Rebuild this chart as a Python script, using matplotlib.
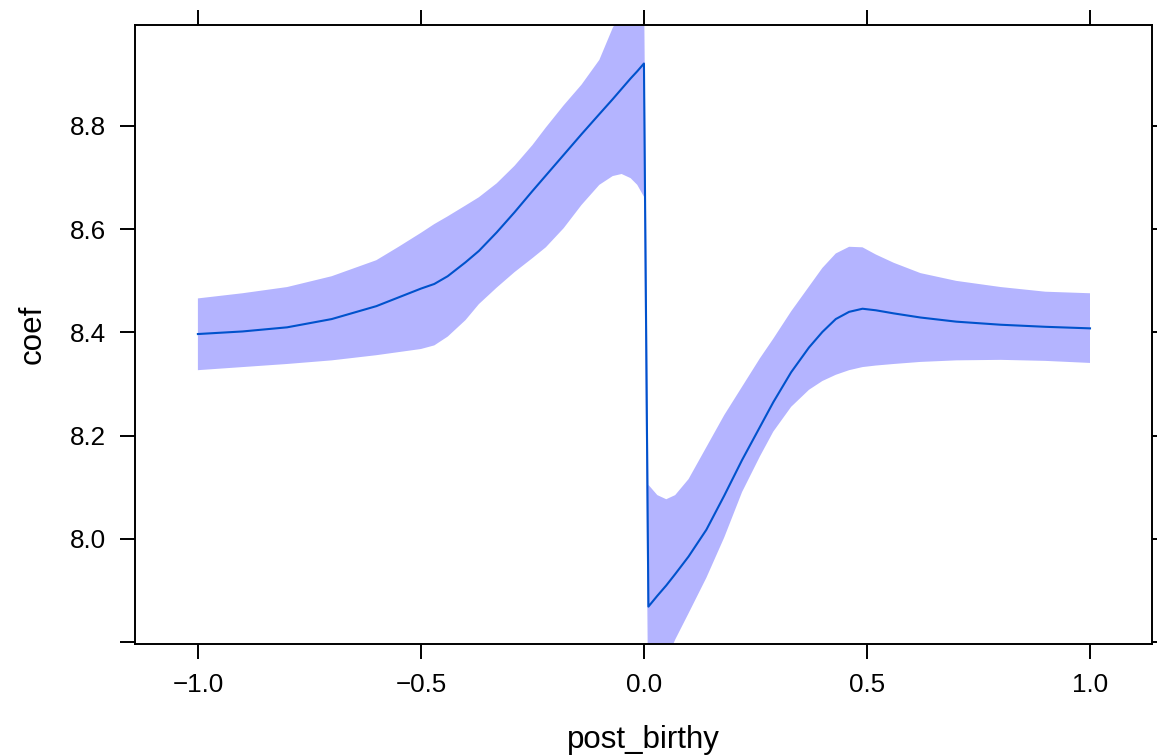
import numpy as np
import matplotlib.pyplot as plt

# effect of post_birthy on coef, with confidence band
post_birthy = [-1.0, -0.9, -0.8, -0.7, -0.6, -0.55, -0.5, -0.47, -0.44, -0.4, -0.37, -0.33,
               -0.29, -0.25, -0.22, -0.18, -0.14, -0.1, -0.07, -0.05, -0.03, -0.015, 0.0,
               0.01, 0.03, 0.05, 0.07, 0.1, 0.14, 0.18, 0.22, 0.26, 0.29, 0.33, 0.37, 0.4,
               0.43, 0.46, 0.49, 0.52, 0.56, 0.62, 0.7, 0.8, 0.9, 1.0]
fit = [8.397, 8.402, 8.410, 8.426, 8.451, 8.468, 8.485, 8.494, 8.509, 8.536, 8.558, 8.594,
       8.633, 8.674, 8.704, 8.744, 8.784, 8.823, 8.852, 8.872, 8.892, 8.906, 8.921,
       7.869, 7.890, 7.910, 7.932, 7.966, 8.018, 8.084, 8.153, 8.217, 8.265, 8.323, 8.371, 8.401,
       8.426, 8.440, 8.446, 8.443, 8.437, 8.429, 8.421, 8.415, 8.411, 8.408]
upper = [8.466, 8.476, 8.488, 8.509, 8.540, 8.566, 8.593, 8.610, 8.625, 8.646, 8.662, 8.689,
         8.723, 8.763, 8.797, 8.840, 8.880, 8.928, 8.990, 9.020, 9.050, 9.070, 9.090,
         8.105, 8.085, 8.077, 8.085, 8.116, 8.178, 8.240, 8.295, 8.350, 8.388, 8.441, 8.489, 8.525,
         8.553, 8.566, 8.565, 8.551, 8.535, 8.515, 8.500, 8.488, 8.479, 8.476]
lower = [8.327, 8.333, 8.339, 8.346, 8.356, 8.362, 8.368, 8.375, 8.392, 8.424, 8.455, 8.487,
         8.517, 8.544, 8.565, 8.602, 8.647, 8.686, 8.703, 8.707, 8.699, 8.686, 8.663,
         7.620, 7.700, 7.765, 7.805, 7.856, 7.925, 8.003, 8.091, 8.160, 8.208, 8.256, 8.289, 8.306,
         8.318, 8.327, 8.333, 8.336, 8.339, 8.343, 8.346, 8.347, 8.345, 8.341]

xticks = [-1.0, -0.5, 0.0, 0.5, 1.0]
xlabels = ["\u22121.0", "\u22120.5", "0.0", "0.5", "1.0"]
yticks = [7.8, 8.0, 8.2, 8.4, 8.6, 8.8]
ylabels = ["", "8.0", "8.2", "8.4", "8.6", "8.8"]

plt.rcParams['font.family'] = ['Liberation Sans', 'DejaVu Sans']

fig = plt.figure(figsize=(11.57, 7.55), dpi=100)
ax = fig.add_axes([135/1157, 111/755, 1017/1157, 619/755])

ax.fill_between(post_birthy, lower, upper, color='#b4b4ff', linewidth=0)
ax.plot(post_birthy, fit, color='#0052cc', linewidth=1.5)

ax.set_xlim(-1.141, 1.139)
ax.set_ylim(7.7966, 8.9956)
ax.set_xticks(xticks)
ax.set_xticklabels(xlabels)
ax.set_yticks(yticks)
ax.set_yticklabels(ylabels)

for s in ax.spines.values():
    s.set_linewidth(1.4)
ax.tick_params(direction='out', length=11, width=1.4, labelsize=18.7, pad=10,
               top=True, right=True, labeltop=False, labelright=False)

ax.set_xlabel("post_birthy", fontsize=22.5, labelpad=20)
ax.set_ylabel("coef", fontsize=22.5, labelpad=16)

fig.savefig("out.png", dpi=100)
